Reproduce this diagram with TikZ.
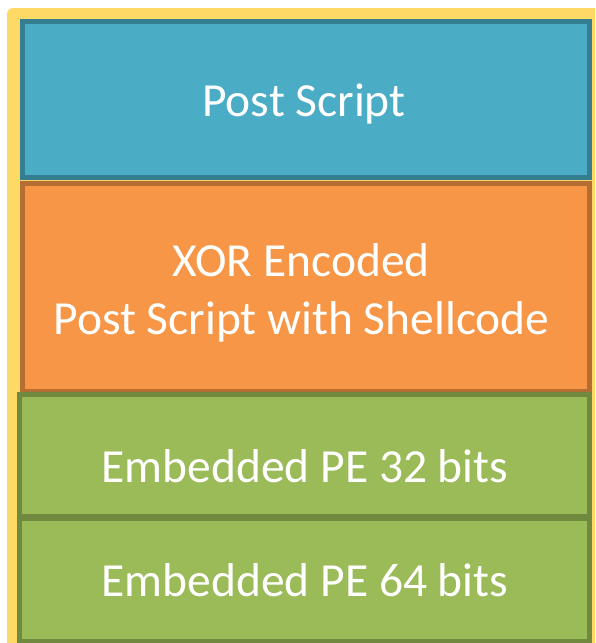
\documentclass[tikz,border=0pt]{standalone}
\usepackage{fontspec}
\setmainfont{Carlito}
\definecolor{frameY}{HTML}{FFD966}
\definecolor{blueF}{HTML}{4BACC6}
\definecolor{blueD}{HTML}{357D91}
\definecolor{orangeF}{HTML}{F79646}
\definecolor{orangeD}{HTML}{B66D31}
\definecolor{greenF}{HTML}{9BBB59}
\definecolor{greenD}{HTML}{71893E}
\tikzset{
  layer/.style={rectangle, line width=5pt, inner sep=0pt},
  caption/.style={anchor=base, text=white, inner sep=0pt,
    font=\fontsize{47.5}{58}\selectfont},
}
\begin{document}
\begin{tikzpicture}[x=1pt,y=-1pt]
  \useasboundingbox (0,0) rectangle (595,643);
  \begin{scope}
    \clip (0,0) rectangle (595,643);
    % outer yellow container, running off the right and bottom edges
    \fill[frameY, rounded corners=6pt] (7,8) rectangle (610,660);
    % stacked layers
    \node[layer, fill=blueF, draw=blueD, minimum width=567pt, minimum height=156pt]
      (ps) at (306,99.5) {};
    \node[layer, fill=orangeF, draw=orangeD, minimum width=567pt, minimum height=208pt]
      (xor) at (306,287.5) {};
    \node[layer, fill=greenF, draw=greenD, minimum width=570pt, minimum height=122pt]
      (pe32) at (304.5,455.5) {};
    \node[layer, fill=greenF, draw=greenD, minimum width=570pt, minimum height=123pt]
      (pe64) at (304.5,580) {};
    % labels
    \node[caption] (psT) at (304,116) {Post Script};
    \node[caption] (xorT1) at (301,276) {XOR Encoded};
    \node[caption] (xorT2) at (301.5,334) {Post Script with Shellcode};
    \node[caption] (pe32T) at (305,482) {Embedded PE 32 bits};
    \node[caption] (pe64T) at (305,596) {Embedded PE 64 bits};
  \end{scope}
\end{tikzpicture}
\end{document}
